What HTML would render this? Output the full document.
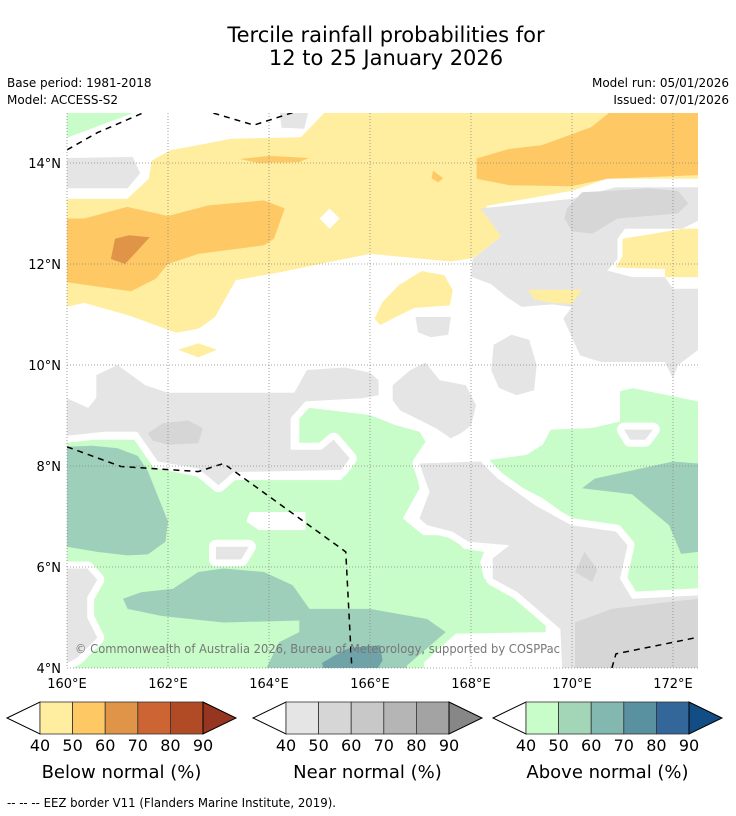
<!DOCTYPE html>
<html><head><meta charset="utf-8"><style>
body{margin:0;background:#fff;font-family:"Liberation Sans","DejaVu Sans",sans-serif}
svg{display:block}
</style></head><body>
<svg id="chart" width="736" height="816" viewBox="0 0 736 816" xmlns="http://www.w3.org/2000/svg" font-family="DejaVu Sans, Liberation Sans, sans-serif">
<text x="386" y="42" font-size="21" text-anchor="middle">Tercile rainfall probabilities for</text>
<text x="386" y="65" font-size="21" text-anchor="middle">12 to 25 January 2026</text>
<text x="7" y="87" font-size="12">Base period: 1981-2018</text>
<text x="7" y="104" font-size="12">Model: ACCESS-S2</text>
<text x="729" y="87" font-size="12" text-anchor="end">Model run: 05/01/2026</text>
<text x="729" y="104" font-size="12" text-anchor="end">Issued: 07/01/2026</text>
<defs><clipPath id="mapclip"><rect x="67" y="113" width="631" height="555"/></clipPath></defs>
<g id="map" clip-path="url(#mapclip)"></g>
<g id="grid"></g>
<g id="axes"></g>
<text x="75" y="653" font-size="12" fill="#777" textLength="485" lengthAdjust="spacingAndGlyphs">© Commonwealth of Australia 2026, Bureau of Meteorology, supported by COSPPac</text>
<g id="cbars"></g>
<text x="7" y="807" font-size="12" textLength="329" lengthAdjust="spacingAndGlyphs">--  --  -- EEZ border V11 (Flanders Marine Institute, 2019).</text>
</svg>
<script>
const lonTicks=[160,162,164,166,168,170,172];
const latTicks=[4,6,8,10,12,14];
const cbLabels=[40,50,60,70,80,90];
const belowColors=["#ffeda0","#fec965","#e09448","#cc6533","#b14b26","#963520"];
const nearColors=["#e5e5e5","#d6d6d6","#c8c8c8","#b5b5b5","#a3a3a3","#878787"];
const aboveColors=["#c8fcc8","#a3d6b6","#83b8b0","#5a91a0","#336699","#134d85"];
const cbTitles=["Below normal (%)","Near normal (%)","Above normal (%)"];
const regions=[
["green-top-left","#c8fcc8",0,[[160,15.1],[160,14.5],[161.6,15.1]]],
["grey-top-left","#e5e5e5",0,[[160,14.1],[161.3,14.12],[161.45,13.8],[161.2,13.5],[160,13.5]]],
["grey-top-small","#e5e5e5",0,[[164.2,15.1],[164.8,15.1],[164.7,14.68],[164.25,14.7]]],
["yellow-main","#ffeda0",0,[[160,13.29],[161.19,13.29],[161.62,13.69],[161.68,14.05],[162.04,14.25],[163.26,14.48],[164.63,14.51],[165.2,15.1],[172.5,15.1],[172.5,13.69],[170.7,13.69],[170.0,13.45],[168.3,13.15],[168.6,12.55],[168.05,12.12],[167.6,12.05],[166.0,12.2],[165.2,12.04],[164.23,11.84],[163.34,11.68],[162.93,10.95],[162.61,10.72],[162.16,10.64],[161.23,10.98],[160.34,11.23],[160,11.15]]],
["orange-left","#fec965",0,[[160,12.9],[160.34,12.9],[161.19,13.13],[162.0,12.95],[162.8,13.16],[163.9,13.26],[164.31,13.1],[164.1,12.5],[163.9,12.37],[162.6,12.2],[162,12.0],[161.76,11.71],[161.27,11.46],[160,11.64]]],
["orange-dark-left","#e09448",0,[[160.95,12.5],[161.23,12.57],[161.64,12.53],[161.43,12.3],[161.15,12.0],[160.87,12.1]]],
["orange-top-right","#fec965",0,[[168.11,14.09],[168.11,13.69],[168.76,13.56],[169.98,13.54],[170.7,13.69],[172.5,13.76],[172.5,15.1],[170.87,15.1],[170.38,14.71],[169.4,14.35],[168.76,14.28]]],
["orange-dash","#fec965",0,[[163.42,14.08],[164.0,14.14],[164.79,14.1],[164.6,14.02],[163.8,14.0]]],
["orange-spot","#fec965",0,[[167.25,13.85],[167.45,13.7],[167.35,13.62],[167.22,13.7]]],
["white-diamond","#ffffff",0,[[165.2,13.1],[165.4,12.9],[165.2,12.7],[165.0,12.9]]],
["yellow-blob-mid","#ffeda0",0,[[166.09,10.92],[166.25,11.25],[166.57,11.58],[167.02,11.86],[167.47,11.78],[167.64,11.48],[167.58,11.18],[166.88,11.13],[166.57,10.98],[166.2,10.79]]],
["yellow-lens","#ffeda0",0,[[162.2,10.3],[162.6,10.43],[162.97,10.3],[162.6,10.15]]],
["grey-upper-right","#e5e5e5",0,[[168.19,13.1],[169.98,13.29],[170.87,13.52],[172.5,13.52],[172.5,12.86],[172.18,12.7],[171.05,12.7],[170.9,12.5],[170.9,12.1],[170.7,11.87],[171.2,11.74],[171.84,11.74],[172.0,11.51],[172.5,11.51],[172.5,10.3],[172.1,10.0],[172.0,9.73],[171.84,10.06],[170.57,10.06],[170.16,10.19],[169.83,10.92],[170.0,11.15],[169.6,11.2],[169.0,11.15],[168.7,11.35],[168.4,11.6],[168.0,11.75],[168.03,12.1],[168.6,12.55]]],
["yellow-right","#ffeda0",0,[[171.0,12.5],[172.2,12.7],[172.5,12.7],[172.5,11.74],[171.84,11.74],[171.84,11.9],[170.87,11.93],[171.0,12.15]]],
["yellow-small-right","#ffeda0",0,[[169.13,11.49],[170.2,11.49],[170.0,11.21],[169.6,11.23],[169.25,11.3]]],
["grey-dark-upper-right","#d6d6d6",0,[[169.9,13.1],[170.2,13.42],[170.8,13.45],[171.5,13.5],[172.1,13.45],[172.3,13.2],[172.1,13.0],[171.5,12.95],[170.9,12.9],[170.4,12.6],[170.0,12.65],[169.85,12.9]]],
["grey-blob-mid","#e5e5e5",0,[[168.45,10.4],[168.8,10.6],[169.15,10.5],[169.3,10.0],[169.25,9.5],[168.9,9.4],[168.55,9.55],[168.4,9.9]]],
["grey-small-mid","#e5e5e5",0,[[166.9,10.95],[167.6,10.95],[167.55,10.6],[167.2,10.55],[166.95,10.65]]],
["green-left-main","#c8fcc8",0,[[160,8.52],[160.74,8.52],[161.39,8.52],[161.8,7.95],[162.77,7.75],[163.0,7.5],[163.26,7.72],[165.43,7.72],[165.6,7.99],[165.2,8.48],[164.6,8.32],[164.6,9.11],[164.8,9.15],[166.0,9.01],[166.5,8.81],[166.98,8.68],[167.1,8.48],[166.86,8.12],[166.98,7.56],[166.65,6.96],[167.06,6.63],[167.6,6.63],[167.86,6.36],[168.26,6.3],[168.18,6.1],[168.26,5.77],[168.83,5.64],[169.48,5.04],[169.48,4.71],[167.7,4.68],[167.07,4.11],[167.07,3.9],[160,3.9]]],
["grey-left-band","#e5e5e5",1,[[160,9.34],[160.42,9.15],[160.58,9.35],[160.58,9.8],[161.0,10.0],[161.55,9.6],[162.0,9.45],[164.5,9.45],[164.75,9.9],[165.5,9.95],[166.0,9.85],[166.17,9.7],[166.17,9.4],[165.85,9.34],[164.72,9.28],[164.43,8.95],[164.43,8.32],[165.04,8.32],[165.28,8.52],[165.6,8.15],[165.43,7.92],[163.3,7.88],[163.0,7.62],[162.6,7.95],[161.8,8.09],[161.39,8.68],[160.74,8.68],[160,8.6]]],
["grey-dark-left","#d6d6d6",0,[[161.6,8.65],[161.9,8.85],[162.4,8.9],[162.69,8.75],[162.6,8.45],[162.0,8.42],[161.7,8.5]]],
["grey-top-mid","#e5e5e5",1,[[166.45,9.6],[166.8,9.9],[167.1,10.05],[167.38,9.7],[167.9,9.6],[168.1,9.2],[168.0,8.8],[167.8,8.65],[167.6,8.55],[167.3,8.75],[167.0,8.9],[166.6,9.1],[166.45,9.3]]],
["green-right","#c8fcc8",0,[[170.95,9.48],[171.2,9.54],[172.5,9.28],[172.5,5.5],[171.27,5.47],[171.03,5.83],[171.19,6.5],[170.87,6.83],[169.98,6.96],[169.42,7.36],[168.53,7.82],[168.37,8.12],[169.1,8.22],[169.42,8.42],[169.58,8.72],[170.38,8.75],[170.95,8.88],[170.95,9.08]]],
["grey-small-right","#e5e5e5",1,[[171.03,8.72],[171.6,8.72],[171.45,8.52],[171.15,8.52]]],
["teal-right","#9dcfba",0,[[170.2,7.56],[170.45,7.75],[172.0,8.09],[172.5,8.05],[172.5,6.3],[172.16,6.26],[171.92,6.83],[171.52,7.16],[171.19,7.44]]],
["grey-mid-right","#e5e5e5",1,[[166.98,8.05],[168.19,8.09],[168.53,7.75],[169.26,7.23],[169.98,6.83],[170.87,6.7],[171.1,6.43],[170.95,5.77],[171.19,5.37],[172.5,5.44],[172.5,3.9],[169.81,3.9],[169.77,4.77],[168.92,5.5],[168.43,5.77],[168.43,6.17],[168.76,6.43],[167.95,6.5],[167.63,6.7],[167.13,6.83],[166.98,6.96],[167.18,7.49],[167.06,7.82]]],
["grey-dark-spot","#d6d6d6",0,[[170.25,6.3],[170.5,5.95],[170.4,5.7],[170.06,5.9]]],
["grey-dark-lower-right","#d6d6d6",0,[[170.06,4.9],[170.79,5.17],[171.84,5.3],[172.5,5.37],[172.5,3.9],[170.06,3.9]]],
["grey-lower-left","#e5e5e5",1,[[160,5.97],[160.4,5.97],[160.6,5.75],[160.4,5.4],[160.4,5.0],[160.6,4.6],[160.2,4.2],[160,4.1]]],
["white-patch-a","#ffffff",0,[[163.62,7.09],[164.72,7.09],[164.72,6.73],[163.8,6.73],[163.55,6.9]]],
["grey-box-green","#e5e5e5",1,[[162.95,6.4],[163.6,6.4],[163.45,6.15],[162.95,6.15]]],
["teal-left","#9dcfba",0,[[160,8.38],[160.5,8.4],[161.0,8.35],[161.4,8.2],[161.6,7.9],[161.8,7.4],[162.0,6.9],[161.95,6.5],[161.6,6.25],[161.2,6.23],[160.6,6.3],[160,6.4]]],
["teal-lower","#9dcfba",0,[[161.11,5.37],[161.47,5.5],[162.1,5.57],[162.6,5.9],[163.1,5.97],[163.9,5.9],[164.47,5.64],[164.8,5.17],[166.0,5.17],[167.13,4.97],[167.5,4.71],[166.73,4.05],[166.73,3.9],[163.9,3.9],[164.2,4.51],[164.6,4.71],[164.6,4.94],[163.1,4.9],[161.88,5.03],[161.2,5.17]]],
["teal-dark","#6fa3a8",0,[[165.3,4.25],[165.6,4.4],[166.2,4.45],[166.25,4.15],[166.1,3.9],[165.1,3.9],[165.05,4.1]]]
];
const eezLines=[
[[160,14.26],[160.6,14.6],[161.64,15.05]],
[[162.69,15.05],[163.7,14.75],[164.63,15.05]],
[[160,8.38],[161.07,7.99],[162.6,7.89],[163.1,8.05],[165.52,6.3],[165.64,4.0]],
[[170.79,4.0],[170.87,4.28],[172.5,4.61]]
];
const X=lon=>67+(lon-160)*50.5;
const Y=lat=>668-(lat-4)*50.5;
const NS="http://www.w3.org/2000/svg";
function mk(t,a){const e=document.createElementNS(NS,t);for(const k in a)e.setAttribute(k,a[k]);return e;}
const map=document.getElementById('map');
regions.forEach(r=>{
 const p=mk('polygon',{points:r[3].map(q=>X(q[0]).toFixed(1)+','+Y(q[1]).toFixed(1)).join(' '),fill:r[1]});
 if(r[2]){p.setAttribute('stroke','#fff');p.setAttribute('stroke-width','14');p.setAttribute('stroke-linejoin','round');p.setAttribute('paint-order','stroke');}
 
 
 map.appendChild(p);
});
eezLines.forEach(l=>{
 const p=mk('polyline',{points:l.map(q=>X(q[0])+','+Y(q[1])).join(' '),fill:'none',stroke:'#000','stroke-width':1.5,'stroke-dasharray':'6,5'});
 
 
 map.appendChild(p);
});
const grid=document.getElementById('grid'),axes=document.getElementById('axes');
lonTicks.forEach(v=>{
 const l=mk('line',{x1:X(v),x2:X(v),y1:113,y2:668,stroke:'#888','stroke-width':0.8,'stroke-dasharray':'1,2'});
 
 
 grid.appendChild(l);
 const t=mk('text',{x:X(v),y:688,'font-size':13,'text-anchor':'middle'});t.textContent=v+'°E';
 
 
 axes.appendChild(t);
});
latTicks.forEach(v=>{
 const l=mk('line',{x1:67,x2:698,y1:Y(v),y2:Y(v),stroke:'#888','stroke-width':0.8,'stroke-dasharray':'1,2'});
 
 
 grid.appendChild(l);
 const t=mk('text',{x:61,y:Y(v)+5,'font-size':13,'text-anchor':'end'});t.textContent=v+'°N';
 
 
 axes.appendChild(t);
});
const cb=document.getElementById('cbars');
[[7,belowColors],[253,nearColors],[493,aboveColors]].forEach((c,i)=>{
 const x0=c[0]+33,w=163/5,y0=702,h=32;
 const lt=mk('polygon',{points:`${c[0]},${y0+h/2} ${x0},${y0} ${x0},${y0+h}`,fill:'#fff',stroke:'#000','stroke-width':1});
 
 
 cb.appendChild(lt);
 for(let k=0;k<5;k++){
  const r=mk('rect',{x:x0+k*w,y:y0,width:w,height:h,fill:c[1][k],stroke:'#333','stroke-width':0.8});
  
  
  cb.appendChild(r);
 }
 const x1=x0+163;
 const rt=mk('polygon',{points:`${x1},${y0} ${x1+33},${y0+h/2} ${x1},${y0+h}`,fill:c[1][5],stroke:'#000','stroke-width':1});
 
 
 cb.appendChild(rt);
 cbLabels.forEach((v,k)=>{
  const t=mk('text',{x:x0+k*w,y:751,'font-size':16,'text-anchor':'middle'});t.textContent=v;
  
  
  cb.appendChild(t);
 });
 const tt=mk('text',{x:x0+81.5,y:778,'font-size':18,'text-anchor':'middle'});tt.textContent=cbTitles[i];
 
 
 cb.appendChild(tt);
});
</script>
</body></html>
